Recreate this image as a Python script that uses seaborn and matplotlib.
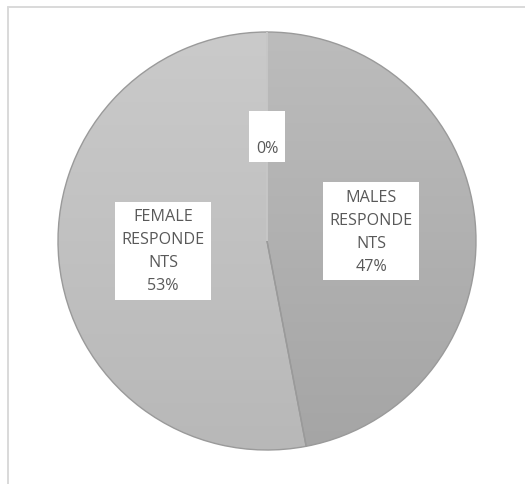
import numpy as np
import matplotlib
matplotlib.use("Agg")
import matplotlib.pyplot as plt
from matplotlib.colors import LinearSegmentedColormap
from matplotlib.lines import Line2D
import seaborn as sns

# Respondent breakdown
categories = ["MALES RESPONDENTS", "FEMALE RESPONDENTS", ""]
shares = [47, 53, 0]

# Top-to-bottom gradient colours for each slice
top_colors = ["#bcbcbc", "#cacaca", "#cacaca"]
bottom_colors = ["#a5a5a5", "#b8b8b8", "#b8b8b8"]

sns.set_theme(style="white")
plt.rcParams["font.family"] = ["Open Sans", "DejaVu Sans"]

W, H, DPI = 525, 485, 100
fig = plt.figure(figsize=(W / DPI, H / DPI), dpi=DPI)
fig.patch.set_facecolor("white")

# chart frame (left and top edges visible)
frame_kw = dict(color="#d9d9d9", lw=1.4, transform=fig.transFigure)
fig.add_artist(Line2D([7.5 / W, 7.5 / W], [0, 1 - 8 / H], **frame_kw))
fig.add_artist(Line2D([7.5 / W, 1.0], [1 - 8 / H, 1 - 8 / H], **frame_kw))

cx, cy, r = 267, 242, 209
ax = fig.add_axes([(cx - r) / W, (H - cy - r) / H, 2 * r / W, 2 * r / H])


def wrap_name(name, width=8):
    # break every word into chunks of at most `width` characters
    lines = []
    for word in name.split():
        lines += [word[i:i + width] for i in range(0, len(word), width)]
    return "\n".join(lines)


total = sum(shares)
labels = [f"{wrap_name(n)}\n{v / total * 100:.0f}%" for n, v in zip(categories, shares)]

wedges, texts = ax.pie(
    shares,
    labels=labels,
    startangle=90,
    counterclock=False,
    radius=1.0,
    labeldistance=0.5,
    wedgeprops=dict(edgecolor="#9a9a9a", linewidth=1.0, facecolor="none", zorder=3),
    textprops=dict(ha="center", va="center", color="#595959", fontsize=11.6,
                   linespacing=1.58, multialignment="center", zorder=6),
)

# the empty slice keeps a pale seam at twelve o'clock
wedges[-1].set_edgecolor("#d8d8d8")
wedges[-1].set_zorder(4)

# vertical gradient fill clipped to each slice
grad = np.linspace(0, 1, 256).reshape(-1, 1)
for w, c0, c1 in zip(wedges, top_colors, bottom_colors):
    cmap = LinearSegmentedColormap.from_list("g", [c0, c1])
    im = ax.imshow(grad, cmap=cmap, extent=[-1.0, 1.0, -1.0, 1.0],
                   origin="upper", aspect="auto", zorder=2, interpolation="bilinear")
    im.set_clip_path(w)

for t in texts:
    t.set_bbox(dict(facecolor="white", edgecolor="none", boxstyle="square,pad=0.4"))

ax.set_xlim(-1.0, 1.0)
ax.set_ylim(-1.0, 1.0)
ax.set_aspect("equal")
ax.axis("off")

fig.savefig("out.png", dpi=DPI, facecolor="white")
